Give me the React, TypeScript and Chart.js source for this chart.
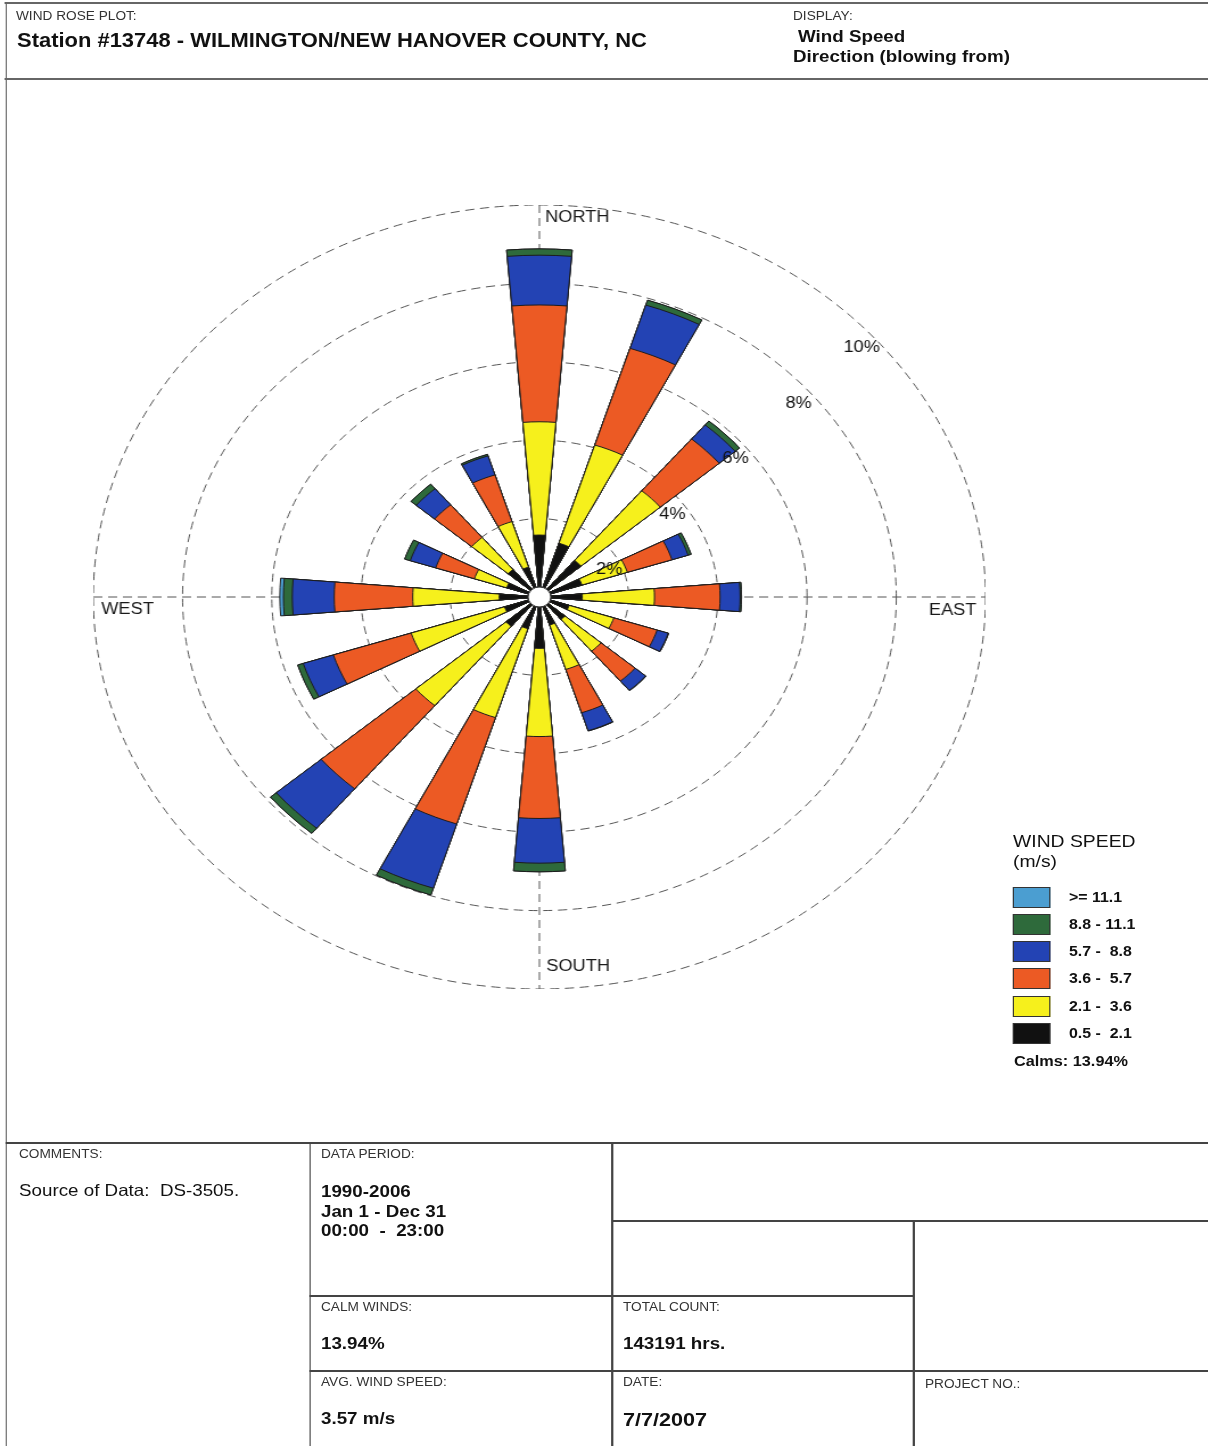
import React, { useEffect, useRef } from 'react';
import { Chart, registerables } from 'chart.js';

Chart.register(...registerables);

// ---------------- data ----------------
const DIRECTIONS = ['N', 'NNE', 'NE', 'ENE', 'E', 'ESE', 'SE', 'SSE', 'S', 'SSW', 'SW', 'WSW', 'W', 'WNW', 'NW', 'NNW'];

// speed classes (m/s), from lowest to highest
const SPEED_CLASSES = ['0.5 -  2.1', '2.1 -  3.6', '3.6 -  5.7', '5.7 -  8.8', '8.8 - 11.1', '>= 11.1'];

// frequency (%) of each speed class per direction
const FREQ_05_21 = [1.58, 1.44, 1.22, 1.0, 0.96, 0.7, 0.75, 0.75, 1.31, 0.85, 0.98, 0.82, 0.9, 0.77, 0.92, 0.8];
const FREQ_21_36 = [2.89, 2.63, 2.33, 1.07, 1.62, 1.05, 1.06, 1.19, 2.25, 2.38, 2.65, 2.2, 1.94, 0.76, 1.07, 1.22];
const FREQ_36_57 = [2.98, 2.59, 1.73, 1.05, 1.47, 1.02, 1.0, 1.16, 2.09, 2.85, 2.78, 1.83, 1.76, 0.91, 1.09, 1.25];
const FREQ_57_88 = [1.27, 1.16, 0.47, 0.38, 0.45, 0.26, 0.31, 0.48, 1.14, 1.72, 1.32, 0.71, 0.94, 0.6, 0.54, 0.51];
const FREQ_88_111 = [0.16, 0.13, 0.13, 0.07, 0.03, 0.01, 0.01, 0.01, 0.22, 0.18, 0.17, 0.13, 0.2, 0.13, 0.15, 0.04];
const FREQ_111_UP = [0, 0, 0, 0, 0, 0, 0, 0, 0, 0, 0, 0, 0.08, 0, 0, 0];

const RING_TICKS = [2, 4, 6, 8, 10];
const CALM_PCT = 13.94;

// ---------------- styles ----------------
const SPEED_COLORS = ['#111111', '#f6f01c', '#ec5a24', '#2343b4', '#2e6a3b', '#4b9ed1'];
const FONT = 'Arial, "Liberation Sans", sans-serif';
const STRETCH = 1.138;
const BAR_DEG = 9.5;
const GAP_DEG = 13;

const FREQS = [FREQ_05_21, FREQ_21_36, FREQ_36_57, FREQ_57_88, FREQ_88_111, FREQ_111_UP];

const roseDecor = {
  id: 'roseDecor',
  beforeDatasetsDraw(chart: any) {
    const s = chart.scales.r;
    const ctx = chart.ctx;
    const R = s.getDistanceFromCenterForValue(RING_TICKS[RING_TICKS.length - 1]);
    const cx = s.xCenter;
    const cy = s.yCenter;
    ctx.save();
    ctx.strokeStyle = '#555';
    ctx.lineWidth = 1;
    ctx.setLineDash([8, 5]);
    ctx.beginPath();
    ctx.moveTo(cx, cy - R);
    ctx.lineTo(cx, cy + R);
    ctx.moveTo(cx - R, cy);
    ctx.lineTo(cx + R, cy);
    ctx.stroke();
    ctx.restore();
  },
  afterDatasetsDraw(chart: any) {
    const s = chart.scales.r;
    const ctx = chart.ctx;
    const cx = s.xCenter;
    const cy = s.yCenter;
    const R = s.getDistanceFromCenterForValue(RING_TICKS[RING_TICKS.length - 1]);
    ctx.save();
    // calm circle
    ctx.beginPath();
    ctx.arc(cx, cy, 10, 0, Math.PI * 2);
    ctx.fillStyle = '#ffffff';
    ctx.fill();
    ctx.lineWidth = 1;
    ctx.strokeStyle = '#333';
    ctx.stroke();
    // cardinal labels
    ctx.fillStyle = '#1a1a1a';
    ctx.font = `16px ${FONT}`;
    ctx.textBaseline = 'middle';
    ctx.textAlign = 'left';
    ctx.fillText('NORTH', cx + 5, cy - R + 13);
    ctx.fillText('SOUTH', cx + 6, cy + R - 22);
    ctx.fillText('WEST', cx - R + 7, cy + 13);
    ctx.textAlign = 'right';
    ctx.fillText('EAST', cx + R - 8, cy + 14);
    // ring labels
    ctx.textAlign = 'center';
    ctx.fillStyle = '#111';
    RING_TICKS.forEach((t) => {
      const r = s.getDistanceFromCenterForValue(t);
      const x = cx + r * Math.SQRT1_2 + 6;
      const y = cy - r * Math.SQRT1_2 + 28;
      ctx.fillText(`${t}%`, x, y);
    });
    ctx.restore();
  },
};

function RoseChart() {
  const ref = useRef<HTMLCanvasElement | null>(null);
  useEffect(() => {
    if (!ref.current) return;
    const labels = DIRECTIONS.flatMap((d) => [d, '']);
    const cumulative: number[][] = [];
    FREQS.forEach((arr, k) => {
      cumulative.push(arr.map((v, i) => (k === 0 ? v : cumulative[k - 1][i] + v)));
    });
    const datasets = SPEED_CLASSES.map((label, k) => ({
      label,
      data: DIRECTIONS.flatMap((_, i) => [Number(cumulative[k][i].toFixed(3)), 0]),
      backgroundColor: SPEED_COLORS[k],
      borderColor: '#1c1c1c',
      borderWidth: DIRECTIONS.flatMap(() => [1, 0]),
      angle: DIRECTIONS.flatMap(() => [BAR_DEG, GAP_DEG]),
    }));
    const chart = new Chart(ref.current, {
      type: 'polarArea',
      data: { labels, datasets },
      options: {
        responsive: false,
        animation: false,
        layout: { padding: 0 },
        plugins: { legend: { display: false }, tooltip: { enabled: false } },
        scales: {
          r: {
            min: 0,
            max: 10,
            startAngle: -BAR_DEG / 2,
            ticks: { display: false, stepSize: 2 },
            grid: { circular: true, color: '#555', lineWidth: 1 },
            border: { dash: [8, 5] },
            angleLines: { display: false },
            pointLabels: { display: false },
          },
        },
      } as any,
      plugins: [roseDecor],
    });
    return () => chart.destroy();
  }, []);
  return (
    <canvas
      ref={ref}
      width={784}
      height={784}
      style={{ position: 'absolute', left: 82, top: 205, width: 784, height: 784 }}
    />
  );
}

function T(props: { x: number; y: number; size: number; bold?: boolean; color?: string; children: React.ReactNode }) {
  const { x, y, size, bold, color, children } = props;
  const lh = Math.round(size * 1.2);
  return (
    <div
      style={{
        position: 'absolute',
        left: x,
        top: y - lh / 2,
        fontSize: size,
        lineHeight: `${lh}px`,
        fontWeight: bold ? 700 : 400,
        color: color || '#111',
        whiteSpace: 'pre',
      }}
    >
      {children}
    </div>
  );
}

function HL(props: { x1: number; x2: number; y: number; w?: number; c?: string }) {
  const w = props.w || 1.5;
  return (
    <div
      style={{
        position: 'absolute',
        left: props.x1,
        top: props.y - w / 2,
        width: props.x2 - props.x1,
        height: w,
        background: props.c || '#444',
      }}
    />
  );
}

function VL(props: { x: number; y1: number; y2: number; w?: number; c?: string }) {
  const w = props.w || 1.5;
  return (
    <div
      style={{
        position: 'absolute',
        left: props.x - w / 2,
        top: props.y1,
        width: w,
        height: props.y2 - props.y1,
        background: props.c || '#444',
      }}
    />
  );
}

export default function App() {
  const X = (sx: number) => sx / STRETCH; // screen x -> inner x
  const right = X(1208);
  const legendRows = SPEED_CLASSES.map((label, k) => ({ label, color: SPEED_COLORS[k] })).reverse();
  return (
    <div style={{ position: 'fixed', left: 0, top: 0, width: 1208, height: 1446, overflow: 'hidden', background: '#fff' }}>
      <div
        style={{
          position: 'absolute',
          left: 0,
          top: 0,
          width: right,
          height: 1446,
          transform: `scaleX(${STRETCH})`,
          transformOrigin: '0 0',
          fontFamily: FONT,
        }}
      >
        {/* header */}
        <HL x1={X(5)} x2={right} y={3} w={2} c="#666" />
        <HL x1={X(5)} x2={right} y={79} w={2} c="#666" />
        <VL x={X(6)} y1={2} y2={1446} w={1.5} c="#666" />
        <T x={X(16)} y={16} size={12} color="#333">WIND ROSE PLOT:</T>
        <T x={X(17)} y={40} size={19.3} bold>Station #13748 - WILMINGTON/NEW HANOVER COUNTY, NC</T>
        <T x={X(793)} y={16} size={12} color="#333">DISPLAY:</T>
        <T x={X(798)} y={36} size={16.5} bold>Wind Speed</T>
        <T x={X(793)} y={56} size={16.5} bold>Direction (blowing from)</T>

        <RoseChart />

        {/* legend */}
        <T x={X(1013)} y={842} size={17}>WIND SPEED</T>
        <T x={X(1013)} y={862} size={17}>(m/s)</T>
        {legendRows.map((row, i) => {
          const cy = 897 + i * 27.3;
          return (
            <React.Fragment key={row.label}>
              <div
                style={{
                  position: 'absolute',
                  left: X(1013),
                  top: cy - 10.5,
                  width: X(1050) - X(1013),
                  height: 21,
                  background: row.color,
                  boxSizing: 'border-box',
                  border: '1px solid #333',
                }}
              />
              <T x={X(1069)} y={cy} size={14} bold>{row.label}</T>
            </React.Fragment>
          );
        })}
        <T x={X(1014)} y={1061} size={14.3} bold>{`Calms: ${CALM_PCT.toFixed(2)}%`}</T>

        {/* footer grid */}
        <HL x1={X(6)} x2={right} y={1143} />
        <VL x={X(310)} y1={1143} y2={1446} />
        <VL x={X(612)} y1={1143} y2={1446} />
        <HL x1={X(612)} x2={right} y={1221} />
        <VL x={X(914)} y1={1221} y2={1446} />
        <HL x1={X(310)} x2={X(914)} y={1296} />
        <HL x1={X(310)} x2={right} y={1371} />

        <T x={X(19)} y={1154} size={12} color="#333">COMMENTS:</T>
        <T x={X(19)} y={1190} size={16.5}>Source of Data:  DS-3505.</T>
        <T x={X(321)} y={1154} size={12} color="#333">DATA PERIOD:</T>
        <T x={X(321)} y={1191} size={16.5} bold>1990-2006</T>
        <T x={X(321)} y={1211} size={16.5} bold>Jan 1 - Dec 31</T>
        <T x={X(321)} y={1230} size={16.5} bold>00:00  -  23:00</T>
        <T x={X(321)} y={1307} size={12} color="#333">CALM WINDS:</T>
        <T x={X(321)} y={1343} size={16.5} bold>{`${CALM_PCT.toFixed(2)}%`}</T>
        <T x={X(321)} y={1382} size={12} color="#333">AVG. WIND SPEED:</T>
        <T x={X(321)} y={1418} size={16.5} bold>3.57 m/s</T>
        <T x={X(623)} y={1307} size={12} color="#333">TOTAL COUNT:</T>
        <T x={X(623)} y={1343} size={16.5} bold>143191 hrs.</T>
        <T x={X(623)} y={1382} size={12} color="#333">DATE:</T>
        <T x={X(623)} y={1419} size={19} bold>7/7/2007</T>
        <T x={X(925)} y={1384} size={12} color="#333">PROJECT NO.:</T>
      </div>
    </div>
  );
}
